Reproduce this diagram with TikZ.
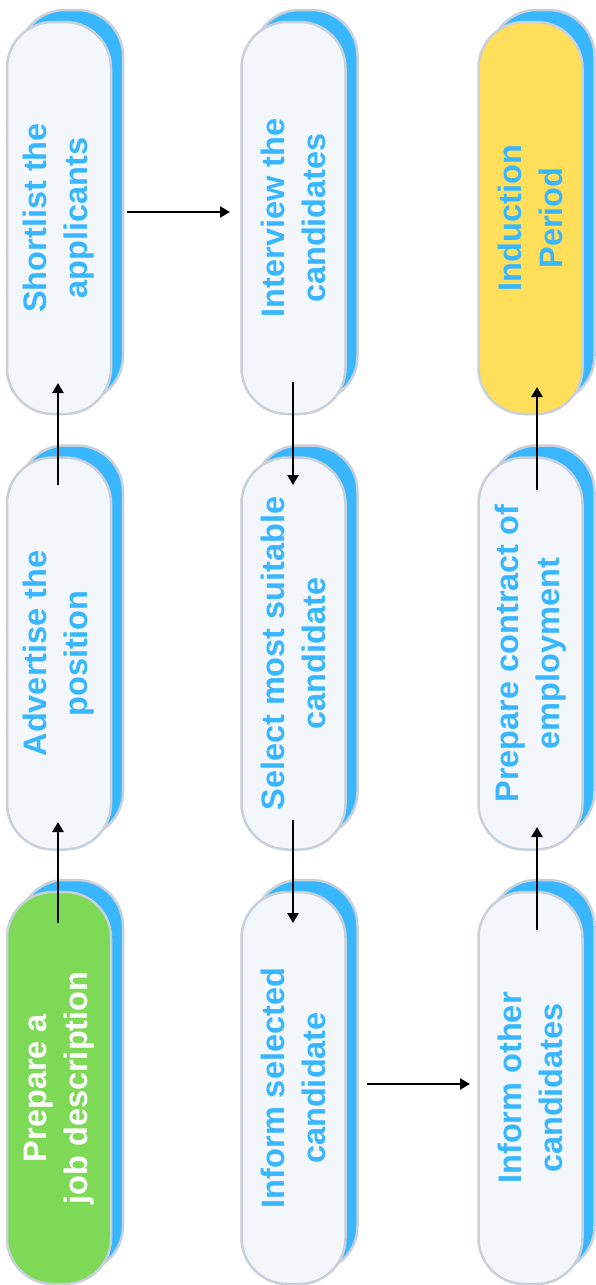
\documentclass[tikz,border=0pt]{standalone}
\usepackage{fontspec}
\setmainfont{Liberation Sans}
\usetikzlibrary{calc,arrows.meta}
\definecolor{skyb}{HTML}{38B6FF}
\definecolor{edgegray}{HTML}{C8D0DA}
\definecolor{pale}{HTML}{F3F7FB}
\definecolor{leaf}{HTML}{7ED957}
\definecolor{sun}{HTML}{FFDE59}
\tikzset{
  pill/.style={rectangle, rounded corners=46pt, rotate=90,
    minimum width=392pt, minimum height=104pt, inner sep=0pt,
    draw=edgegray, line width=2.5pt, fill=pale, text=skyb,
    font=\bfseries\fontsize{32.5}{41}\selectfont, align=center},
  backpill/.style={pill, fill=skyb},
  greenpill/.style={pill, fill=leaf, text=white},
  yellowpill/.style={pill, fill=sun},
  arr/.style={-{Triangle[length=10pt,width=11pt]}, line width=2.8pt, black},
}
\begin{document}
\begin{tikzpicture}[x=1pt,y=1pt]
\useasboundingbox (0,0) rectangle (595,-1285);
\fill[white] (0,0) rectangle (595,-1285);
% shadows
\node[backpill] (s1) at (71,-1076) {};
\node[backpill] (s2) at (71,-641.5) {};
\node[backpill] (s3) at (71,-206) {};
\node[backpill] (s4) at (305.5,-206) {};
\node[backpill] (s5) at (305.5,-641.5) {};
\node[backpill] (s6) at (305.5,-1076) {};
\node[backpill] (s7) at (542.5,-1076) {};
\node[backpill] (s8) at (542.5,-641.5) {};
\node[backpill] (s9) at (542.5,-206) {};
% front pills
\node[greenpill] (n1) at (59,-1088) {Prepare a\\job description};
\node[pill] (n2) at (59,-653.5) {Advertise the\\position};
\node[pill] (n3) at (59,-218) {Shortlist the\\applicants};
\node[pill] (n4) at (293.5,-218) {Interview the\\candidates};
\node[pill] (n5) at (293.5,-653.5) {Select most suitable\\candidate};
\node[pill] (n6) at (293.5,-1088) {Inform selected\\candidate};
\node[pill] (n7) at (530.5,-1088) {Inform other\\candidates};
\node[pill] (n8) at (530.5,-653.5) {Prepare contract of\\employment};
\node[yellowpill] (n9) at (530.5,-218) {Induction\\Period};
% connectors
\draw[arr] ($(n1.center)+(-1,165)$) -- ($(n2.center)+(-1,-168.5)$);
\draw[arr] ($(n2.center)+(-1,168.5)$) -- ($(n3.center)+(-1,-165)$);
\draw[arr] ($(n3.center)+(68,6)$) -- ($(n4.center)+(-63.5,6)$);
\draw[arr] ($(n4.center)+(-0.5,-164)$) -- ($(n5.center)+(-0.5,168.5)$);
\draw[arr] ($(n5.center)+(-0.5,-166.5)$) -- ($(n6.center)+(-0.5,165)$);
\draw[arr] ($(n6.center)+(73.5,4)$) -- ($(n7.center)+(-60.5,4)$);
\draw[arr] ($(n7.center)+(6.5,158)$) -- ($(n8.center)+(6.5,-173.5)$);
\draw[arr] ($(n8.center)+(6.5,163.5)$) -- ($(n9.center)+(6.5,-169)$);
\end{tikzpicture}
\end{document}
